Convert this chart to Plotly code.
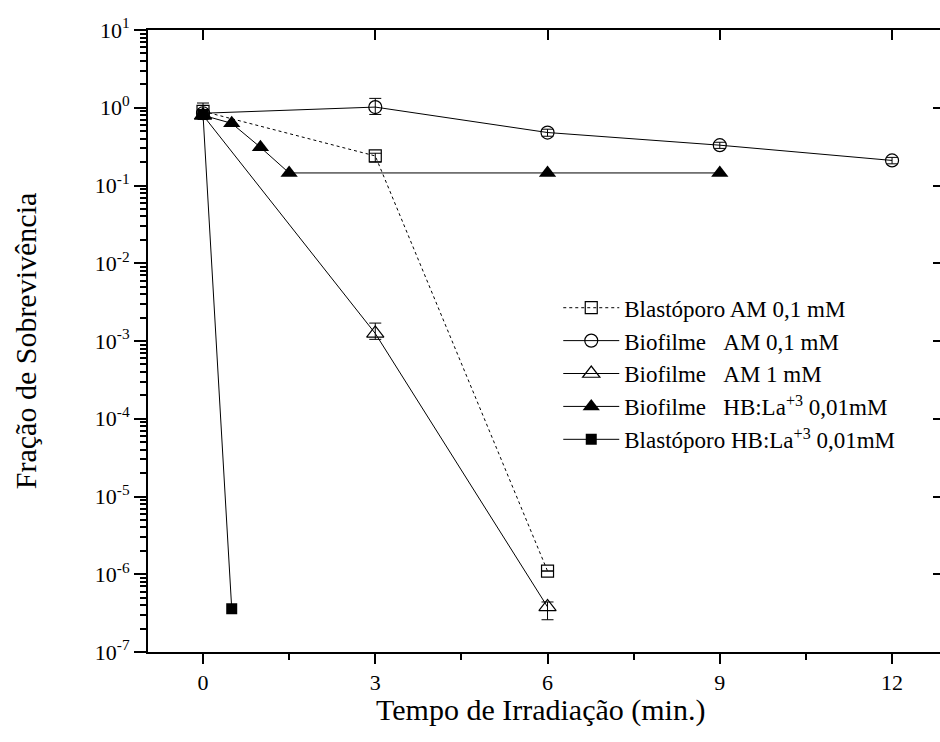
import plotly.graph_objects as go

FONT = "Times New Roman, Liberation Serif, Times, serif"

# ---- data ----
bl_am_x = [0, 3, 6]
bl_am_y = [0.90, 0.24, 1.1e-6]
bl_am_err_up = [0.25, 0.02, 0.0]
bl_am_err_dn = [0.1, 0.04, 0.0]

bf_am01_x = [0, 3, 6, 9, 12]
bf_am01_y = [0.85, 1.02, 0.48, 0.33, 0.21]
bf_am01_err_up = [0.1, 0.3, 0.05, 0.03, 0.02]
bf_am01_err_dn = [0.1, 0.2, 0.05, 0.03, 0.02]

bf_am1_x = [0, 3, 6]
bf_am1_y = [0.80, 1.25e-3, 3.8e-7]
bf_am1_err_up = [0.05, 0.45e-3, 0.6e-7]
bf_am1_err_dn = [0.05, 0.2e-3, 1.2e-7]

bf_hb_x = [0, 0.5, 1, 1.5, 6, 9]
bf_hb_y = [0.80, 0.63, 0.31, 0.145, 0.145, 0.145]

bl_hb_x = [0, 0.5]
bl_hb_y = [0.82, 3.6e-7]

names = [
    "Blastóporo AM 0,1 mM",
    "Biofilme\u00a0\u00a0\u00a0AM 0,1 mM",
    "Biofilme\u00a0\u00a0\u00a0AM 1 mM",
    "Biofilme\u00a0\u00a0\u00a0HB:La<sup>+3</sup> 0,01mM",
    "Blastóporo HB:La<sup>+3</sup> 0,01mM",
]

x_title = "Tempo de Irradiação (min.)"
y_title = "Fração de Sobrevivência"

y_decades = list(range(-7, 2))
y_ticktext = [f"10<sup>{d}</sup>" for d in y_decades]
x_ticks = [0, 3, 6, 9, 12]

fig = go.Figure()

def err(up, dn):
    return dict(type="data", symmetric=False, array=up, arrayminus=dn,
                color="black", thickness=1, width=6)

fig.add_trace(go.Scatter(
    x=bl_am_x, y=bl_am_y, name=names[0], mode="lines+markers",
    line=dict(color="black", width=1, dash="dot"),
    marker=dict(symbol="square-open", size=12, color="black", line=dict(width=1.2)),
    error_y=err(bl_am_err_up, bl_am_err_dn)))

fig.add_trace(go.Scatter(
    x=bf_am01_x, y=bf_am01_y, name=names[1], mode="lines+markers",
    line=dict(color="black", width=1),
    marker=dict(symbol="circle-open", size=13, color="black", line=dict(width=1.2)),
    error_y=err(bf_am01_err_up, bf_am01_err_dn)))

fig.add_trace(go.Scatter(
    x=bf_am1_x, y=bf_am1_y, name=names[2], mode="lines+markers",
    line=dict(color="black", width=1),
    marker=dict(symbol="triangle-up-open", size=15, color="black", line=dict(width=1.2)),
    error_y=err(bf_am1_err_up, bf_am1_err_dn)))

fig.add_trace(go.Scatter(
    x=bf_hb_x, y=bf_hb_y, name=names[3], mode="lines+markers",
    line=dict(color="black", width=1),
    marker=dict(symbol="triangle-up", size=15, color="black")))

fig.add_trace(go.Scatter(
    x=bl_hb_x, y=bl_hb_y, name=names[4], mode="lines+markers",
    line=dict(color="black", width=1),
    marker=dict(symbol="square", size=11, color="black")))

# helper trace for the mirrored (top/right) axes
fig.add_trace(go.Scatter(x=[0], y=[1], xaxis="x2", yaxis="y2", mode="markers",
                         marker=dict(opacity=0), showlegend=False, hoverinfo="skip"))

xr = [-0.958, 12.835]
yr = [-7, 1]

minor_y = [k * 10.0 ** d for d in range(-7, 1) for k in range(2, 10)]

fig.update_layout(
    width=940, height=742,
    margin=dict(l=148, r=0, t=30, b=90),
    paper_bgcolor="white", plot_bgcolor="white",
    font=dict(family=FONT, size=22, color="black"),
    showlegend=True,
    legend=dict(x=0.518, y=0.588, xanchor="left", yanchor="top",
                bgcolor="rgba(0,0,0,0)", font=dict(family=FONT, size=23),
                itemwidth=56, tracegroupgap=0),
    xaxis=dict(range=xr, showgrid=False, zeroline=False, showline=True,
               linewidth=2, linecolor="black", ticks="outside", ticklen=10,
               tickwidth=2, tickcolor="black", tickvals=x_ticks,
               tickfont=dict(family=FONT, size=22),
               minor=dict(ticks="outside", ticklen=6, tickwidth=2, tickcolor="black",
                          tickvals=[1.5, 4.5, 7.5, 10.5], showgrid=False)),
    yaxis=dict(type="log", range=yr, showgrid=False, zeroline=False, showline=True,
               linewidth=2, linecolor="black", ticks="outside", ticklen=12,
               tickwidth=2, tickcolor="black",
               tickvals=[10.0 ** d for d in y_decades], ticktext=y_ticktext,
               tickfont=dict(family=FONT, size=22),
               minor=dict(ticks="outside", ticklen=6, tickwidth=2, tickcolor="black",
                          tickvals=minor_y, showgrid=False)),
    xaxis2=dict(range=xr, overlaying="x", side="top", anchor="y2", showgrid=False,
                zeroline=False, showline=True, linewidth=2, linecolor="black",
                ticks="inside", ticklen=10, tickwidth=2, tickcolor="black",
                tickvals=x_ticks, showticklabels=False),
    yaxis2=dict(type="log", range=yr, overlaying="y", side="right", anchor="x2",
                showgrid=False, zeroline=False, showline=False,
                ticks="inside", ticklen=7, tickwidth=2, tickcolor="black",
                tickvals=[10.0 ** d for d in y_decades], showticklabels=False),
    annotations=[
        dict(text=x_title, xref="paper", yref="paper", x=0.496, y=-0.093,
             xanchor="center", yanchor="middle", showarrow=False,
             font=dict(family=FONT, size=30)),
        dict(text=y_title, xref="paper", yref="paper", x=-0.155, y=0.5,
             xanchor="center", yanchor="middle", showarrow=False, textangle=-90,
             font=dict(family=FONT, size=30)),
    ],
)

fig.write_html("out.html")
